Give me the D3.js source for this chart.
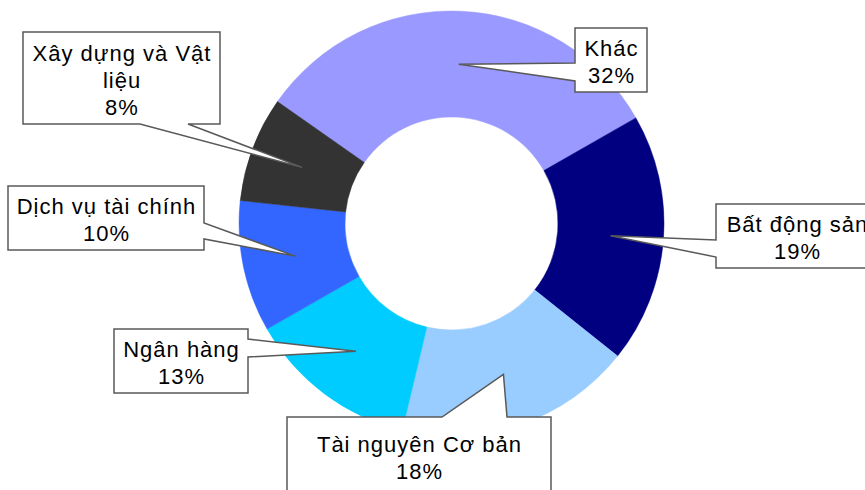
<!DOCTYPE html>
<html>
<head>
<meta charset="utf-8">
<script src="https://cdn.jsdelivr.net/npm/d3@7"></script>
<style>
  html, body { margin: 0; padding: 0; background: #fff; }
  svg { display: block; }
  .callout-box { fill: #fff; stroke: #595959; stroke-width: 1.5; }
  .callout-text { font-family: "Liberation Sans", Arial, sans-serif; font-size: 22px; letter-spacing: 1px; fill: #000; }
</style>
</head>
<body>
<svg id="chart"></svg>
<script>
// Chart data
const categories = ['Khác', 'Bất động sản', 'Tài nguyên Cơ bản', 'Ngân hàng', 'Dịch vụ tài chính', 'Xây dựng và Vật liệu'];
const shares = [32, 19, 18, 13, 10, 8];
const labelLines = [
  ['Khác', '32%'],
  ['Bất động sản', '19%'],
  ['Tài nguyên Cơ bản', '18%'],
  ['Ngân hàng', '13%'],
  ['Dịch vụ tài chính', '10%'],
  ['Xây dựng và Vật', 'liệu', '8%']
];
const colors = ['#9999ff', '#000080', '#99ccff', '#00ccff', '#3366ff', '#333333'];

// Layout of the callout boxes (box rect, side of the pointer, pointer base range)
const callouts = [
  {x0: 575, y0: 28, x1: 647, y1: 92, side: 'left', b0: 63, b1: 81},
  {x0: 716, y0: 204, x1: 878, y1: 268, side: 'left', b0: 240, b1: 257},
  {x0: 287, y0: 417, x1: 551, y1: 494, side: 'top', b0: 442, b1: 507},
  {x0: 114, y0: 329, x1: 248, y1: 393, side: 'right', b0: 339, b1: 357},
  {x0: 8, y0: 186, x1: 204, y1: 250, side: 'right', b0: 223, b1: 239},
  {x0: 23, y0: 32, x1: 220, y1: 124, side: 'bottom', b0: 140, b1: 188}
];

const width = 865, height = 490;
const cx = 451.5, cy = 223.5;
const outerR = 212.5, innerR = 106.5;
const startDeg = -55;

const svg = d3.select('#chart').attr('width', width).attr('height', height);

const data = categories.map((c, i) => ({name: c, value: shares[i], i: i}));

const pie = d3.pie()
    .sort(null)
    .value(d => d.value)
    .startAngle(startDeg * Math.PI / 180)
    .endAngle((startDeg + 360) * Math.PI / 180);

const arc = d3.arc().innerRadius(innerR).outerRadius(outerR);
const arcs = pie(data);

const chart = svg.append('g').attr('transform', `translate(${cx},${cy})`);

chart.selectAll('.slice')
    .data(arcs)
  .join('path')
    .attr('class', 'slice')
    .attr('d', arc)
    .attr('fill', d => colors[d.data.i])
    .attr('stroke', d => colors[d.data.i])
    .attr('stroke-width', 0.5);

// callout path: rectangle with a wedge pointing to the slice centroid
function calloutPath(c, tip) {
  const p = d3.path();
  const [tx, ty] = tip;
  p.moveTo(c.x0, c.y0);
  if (c.side === 'top') { p.lineTo(c.b0, c.y0); p.lineTo(tx, ty); p.lineTo(c.b1, c.y0); }
  p.lineTo(c.x1, c.y0);
  if (c.side === 'right') { p.lineTo(c.x1, c.b0); p.lineTo(tx, ty); p.lineTo(c.x1, c.b1); }
  p.lineTo(c.x1, c.y1);
  if (c.side === 'bottom') { p.lineTo(c.b1, c.y1); p.lineTo(tx, ty); p.lineTo(c.b0, c.y1); }
  p.lineTo(c.x0, c.y1);
  if (c.side === 'left') { p.lineTo(c.x0, c.b1); p.lineTo(tx, ty); p.lineTo(c.x0, c.b0); }
  p.closePath();
  return p.toString();
}

const labels = svg.selectAll('.callout')
    .data(arcs)
  .join('g')
    .attr('class', 'callout');

labels.append('path')
    .attr('class', 'callout-box')
    .attr('d', d => {
      const c = arc.centroid(d);
      return calloutPath(callouts[d.data.i], [c[0] + cx, c[1] + cy]);
    });

labels.each(function(d) {
  const c = callouts[d.data.i];
  const lines = labelLines[d.data.i];
  const mx = (c.x0 + c.x1) / 2 + 0.5;
  const my = (c.y0 + c.y1) / 2 + 9.5;
  const lh = 27;
  d3.select(this).append('text')
      .attr('class', 'callout-text')
      .attr('text-anchor', 'middle')
    .selectAll('tspan')
      .data(lines)
    .join('tspan')
      .attr('x', mx)
      .attr('y', (t, k) => my + (k - (lines.length - 1) / 2) * lh)
      .text(t => t);
});
</script>
</body>
</html>
